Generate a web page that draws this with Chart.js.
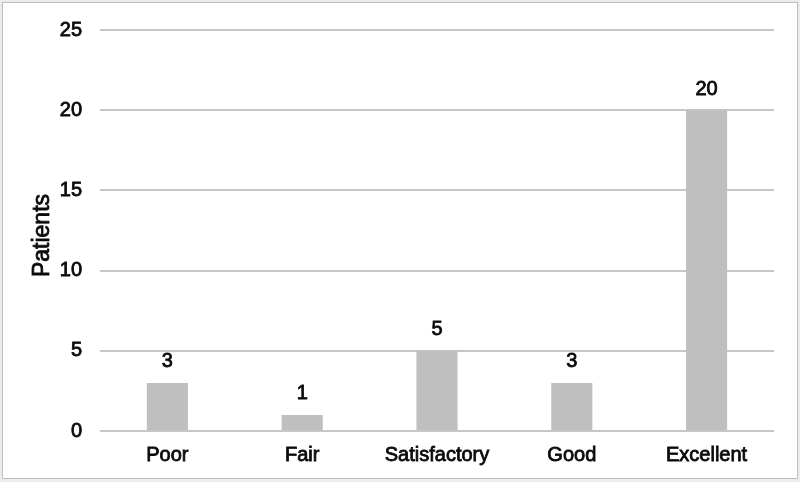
<!DOCTYPE html>
<html>
<head>
<meta charset="utf-8">
<style>
  html, body { margin: 0; padding: 0; background: #ffffff; }
  #wrap { position: relative; width: 800px; height: 482px; }
  canvas { display: block; }
</style>
<script src="https://cdn.jsdelivr.net/npm/chart.js@4/dist/chart.umd.min.js"></script>
</head>
<body>
<div id="wrap"><canvas id="c" width="800" height="482"></canvas></div>
<script>
const categories = ["Poor", "Fair", "Satisfactory", "Good", "Excellent"];
const patients = [3, 1, 5, 3, 20];
const yTicks = [0, 5, 10, 15, 20, 25];
const yTitle = "Patients";

const FONT = "'Liberation Sans', Arial, Helvetica, sans-serif";
const TEXT = "#0a0a0a";
const STROKE = 0.8;

const framePlugin = {
  id: 'frame',
  beforeDraw(chart) {
    const ctx = chart.ctx;
    ctx.save();
    ctx.fillStyle = '#ececec';
    ctx.fillRect(0, 0, chart.width, chart.height);
    ctx.fillStyle = '#ffffff';
    ctx.fillRect(3, 3, chart.width - 6, chart.height - 7);
    ctx.strokeStyle = '#bdbdbd';
    ctx.lineWidth = 1;
    ctx.strokeRect(2.5, 2.5, chart.width - 5, chart.height - 6);
    ctx.restore();
  }
};

function heavyText(ctx, txt, x, y) {
  ctx.fillText(txt, x, y);
  ctx.lineWidth = STROKE;
  ctx.strokeStyle = TEXT;
  ctx.strokeText(txt, x, y);
}

const valueLabels = {
  id: 'valueLabels',
  afterDatasetsDraw(chart) {
    const ctx = chart.ctx;
    const meta = chart.getDatasetMeta(0);
    ctx.save();
    ctx.font = "20px " + FONT;
    ctx.fillStyle = TEXT;
    ctx.textAlign = 'center';
    ctx.textBaseline = 'middle';
    meta.data.forEach((bar, i) => {
      heavyText(ctx, String(patients[i]), bar.x, bar.y - 21);
    });
    // y axis title
    const area = chart.chartArea;
    ctx.font = "23px " + FONT;
    ctx.translate(43, (area.top + area.bottom) / 2 + 5);
    ctx.rotate(-Math.PI / 2);
    heavyText(ctx, yTitle, 0, 0);
    ctx.restore();
  }
};

new Chart(document.getElementById('c'), {
  type: 'bar',
  data: {
    labels: categories,
    datasets: [{
      data: patients,
      backgroundColor: '#bfbfbf',
      borderWidth: 0,
      categoryPercentage: 1.0,
      barPercentage: 0.305
    }]
  },
  options: {
    responsive: false,
    animation: false,
    devicePixelRatio: 1,
    layout: { padding: { left: 0, top: 27, right: 26, bottom: 0 } },
    plugins: {
      legend: { display: false },
      tooltip: { enabled: false }
    },
    scales: {
      x: {
        grid: { display: false, drawTicks: false },
        border: { display: false },
        ticks: {
          color: TEXT,
          font: { family: FONT, size: 20 },
          textStrokeColor: TEXT,
          textStrokeWidth: STROKE,
          padding: 12,
          maxRotation: 0,
          autoSkip: false
        },
        afterFit(scale) { scale.height = 51; }
      },
      y: {
        min: 0,
        max: 25,
        afterBuildTicks(scale) { scale.ticks = yTicks.map(v => ({ value: v })); },
        grid: { color: '#c6c6c6', lineWidth: 2, drawTicks: false },
        border: { display: false },
        ticks: {
          color: TEXT,
          font: { family: FONT, size: 20 },
          textStrokeColor: TEXT,
          textStrokeWidth: STROKE,
          padding: 18
        },
        afterFit(scale) { scale.width = 100; }
      }
    }
  },
  plugins: [framePlugin, valueLabels]
});
</script>
</body>
</html>
